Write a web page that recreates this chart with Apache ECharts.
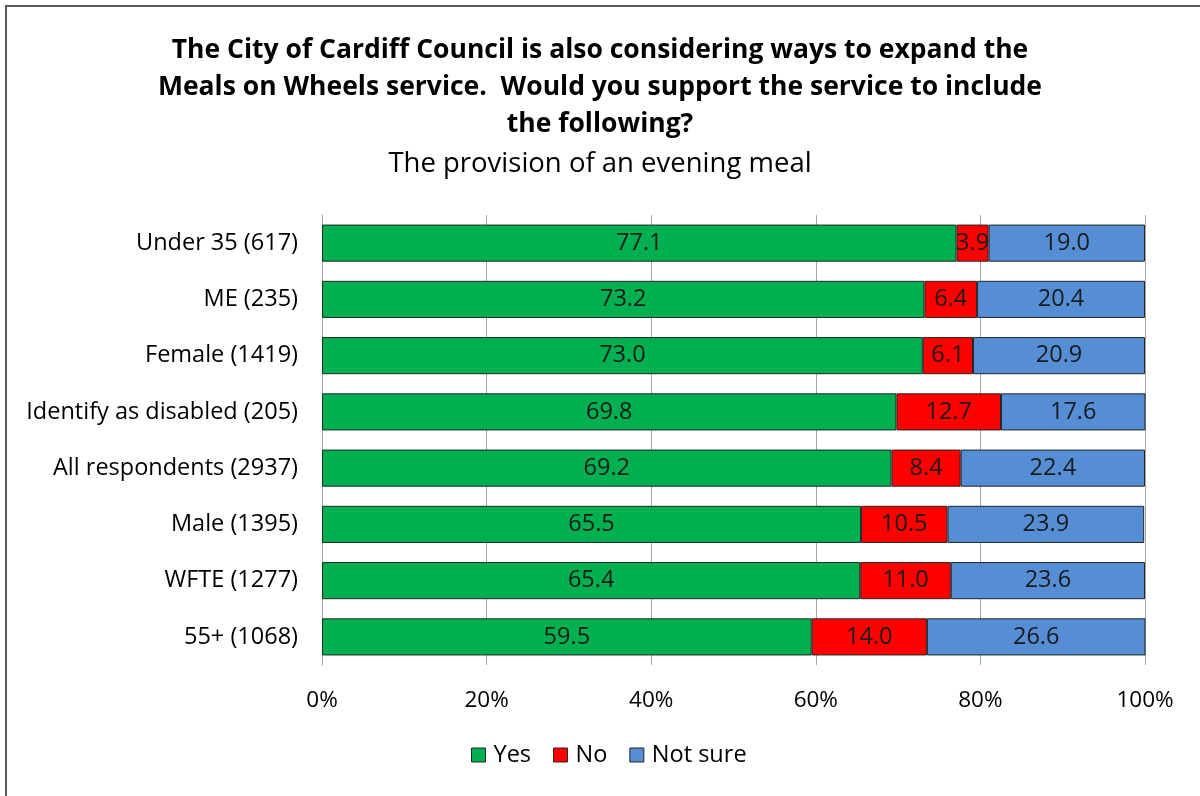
<!DOCTYPE html>
<html><head><meta charset="utf-8">
<script src="https://cdn.jsdelivr.net/npm/echarts@6/dist/echarts.min.js"></script>
<style>
html,body{margin:0;padding:0;background:#fff;}
#c{width:1200px;height:796px;position:relative;}
#frame{position:absolute;left:5px;top:5px;width:1300px;height:900px;border-left:2px solid #5a5a5a;border-top:2px solid #5a5a5a;pointer-events:none;}
</style></head>
<body>
<div id="c"></div>
<div id="frame"></div>
<script>
const categories = ['Under 35 (617)','ME (235)','Female (1419)','Identify as disabled (205)','All respondents (2937)','Male (1395)','WFTE (1277)','55+ (1068)'];
const yesValues = [77.1,73.2,73.0,69.8,69.2,65.5,65.4,59.5];
const noValues = [3.9,6.4,6.1,12.7,8.4,10.5,11.0,14.0];
const notSureValues = [19.0,20.4,20.9,17.6,22.4,23.9,23.6,26.6];
const seriesNames = ['Yes','No','Not sure'];
const tickLabels = ['0%','20%','40%','60%','80%','100%'];

const FONT = '"Open Sans", sans-serif';
const colors = ['#00B050','#FF0000','#558ED5'];
const chart = echarts.init(document.getElementById('c'));
function mk(name, data, color){
  return {
    name, type:'bar', stack:'total', data, barWidth:'66%',
    itemStyle:{color, borderColor:'#262626', borderWidth:1},
    label:{show:true, position:'inside', formatter:p=>p.value.toFixed(1), color:'#1a1a1a', fontSize:23.5, fontFamily:FONT},
    emphasis:{disabled:true}
  };
}
chart.setOption({
  animation:false,
  title:{
    text:'The City of Cardiff Council is also considering ways to expand the\nMeals on Wheels service.  Would you support the service to include\nthe following?',
    subtext:'The provision of an evening meal',
    left:'center', top:27, itemGap:5,
    textStyle:{fontFamily:FONT, fontSize:26.5, fontWeight:'bold', color:'#000', lineHeight:37},
    subtextStyle:{fontFamily:FONT, fontSize:27.5, color:'#000', lineHeight:32}
  },
  legend:{
    data:seriesNames, bottom:24, left:466, itemWidth:14, itemHeight:14, itemGap:22,
    icon:'rect',
    itemStyle:{borderColor:'#262626', borderWidth:1},
    textStyle:{fontFamily:FONT, fontSize:23.5, color:'#000', padding:[0,0,0,3]}
  },
  grid:{left:322, right:55, top:215, bottom:131},
  xAxis:{
    type:'value', min:0, max:100, interval:20,
    axisLabel:{formatter:v=>tickLabels[v/20], fontFamily:FONT, fontSize:22.5, color:'#000', margin:24},
    splitLine:{show:true, lineStyle:{color:'#a6a6a6', width:1}},
    axisLine:{show:false}, axisTick:{show:false}
  },
  yAxis:{
    type:'category', data:categories, inverse:true,
    axisLabel:{fontFamily:FONT, fontSize:23.5, color:'#000', margin:24},
    axisLine:{show:true, lineStyle:{color:'#a6a6a6'}},
    axisTick:{show:false}
  },
  series:[mk(seriesNames[0], yesValues, colors[0]), mk(seriesNames[1], noValues, colors[1]), mk(seriesNames[2], notSureValues, colors[2])]
});
</script>
</body></html>
